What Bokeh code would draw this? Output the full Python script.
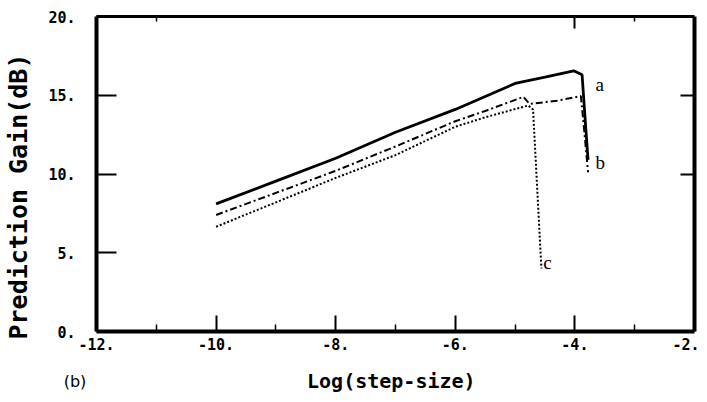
from bokeh.plotting import figure
from bokeh.models import Range1d, LinearAxis, FixedTicker, Label
from bokeh.embed import file_html
from bokeh.resources import INLINE

# ---- data ----
x_ticks = [-12, -10, -8, -6, -4, -2]
x_tick_labels = ["-12.", "-10.", "-8.", "-6.", "-4.", "-2."]
x_minor = [-11, -9, -7, -5, -3]
y_ticks = [0, 5, 10, 15, 20]
y_tick_labels = ["0.", "5.", "10.", "15.", "20."]
x_lim = (-12, -2)
y_lim = (0, 20)

xa = [-10, -9, -8, -7, -6, -5, -4.5, -4.02, -3.88, -3.82, -3.78]
ya = [8.1, 9.55, 11.0, 12.65, 14.1, 15.75, 16.15, 16.55, 16.3, 13.0, 10.9]

xb = [-10, -9, -8, -7, -6, -5.5, -4.86, -4.76, -4.3, -3.9, -3.85, -3.78]
yb = [7.4, 8.8, 10.2, 11.75, 13.35, 14.0, 14.9, 14.45, 14.65, 14.95, 13.0, 10.1]

xc = [-10, -9, -8, -7, -6, -5.5, -4.78, -4.70, -4.56]
yc = [6.65, 8.2, 9.75, 11.2, 13.0, 13.6, 14.35, 14.1, 4.0]

curve_names = ["a", "b", "c"]
curve_label_x = [-3.656, -3.656, -4.53]
curve_label_y = [15.68, 10.73, 4.38]

MONO = "DejaVu Sans Mono"

# the whole canvas is the frame; axes sit at fixed data positions
W, H = 699, 394
L_PX, R_PX, T_PX, B_PX = 96, 5, 16, 63
ux = (W - L_PX - R_PX) / (x_lim[1] - x_lim[0])
uy = (H - T_PX - B_PX) / (y_lim[1] - y_lim[0])
xr = Range1d(x_lim[0] - L_PX / ux, x_lim[1] + R_PX / ux)
yr = Range1d(y_lim[0] - B_PX / uy, y_lim[1] + T_PX / uy)

p = figure(frame_width=W, frame_height=H, min_border=0,
           x_range=xr, y_range=yr,
           output_backend="svg", toolbar_location=None,
           x_axis_type=None, y_axis_type=None)
p.background_fill_color = "white"
p.border_fill_color = "white"
p.grid.visible = False
p.outline_line_color = None


def style(ax, tick_in, minor_in=0, lw=4):
    ax.axis_line_color = "black"
    ax.axis_line_width = lw
    ax.major_tick_in = tick_in
    ax.major_tick_out = 0
    ax.major_tick_line_width = 2
    ax.minor_tick_in = minor_in
    ax.minor_tick_out = 0
    ax.minor_tick_line_width = 1.5
    ax.major_label_text_font = MONO
    ax.major_label_text_font_style = "bold"
    ax.major_label_text_font_size = "15px"
    ax.major_label_text_color = "black"


bottom = LinearAxis(ticker=FixedTicker(ticks=x_ticks, minor_ticks=x_minor),
                    fixed_location=y_lim[0], bounds=x_lim)
style(bottom, 16, 7)
bottom.major_label_overrides = dict(zip(x_ticks, x_tick_labels))
bottom.major_label_standoff = 6
p.add_layout(bottom, "below")

left = LinearAxis(ticker=FixedTicker(ticks=y_ticks),
                  fixed_location=x_lim[0], bounds=y_lim)
style(left, 20)
left.major_label_overrides = dict(zip(y_ticks, y_tick_labels))
left.major_label_standoff = 21
p.add_layout(left, "left")

right_ticks = [10, 15]
right = LinearAxis(ticker=FixedTicker(ticks=right_ticks),
                   fixed_location=x_lim[1], bounds=y_lim)
style(right, 14)
right.major_label_overrides = {t: "" for t in right_ticks}
p.add_layout(right, "right")

top_ticks = [-4]
top = LinearAxis(ticker=FixedTicker(ticks=top_ticks, minor_ticks=[-11, -3]),
                 fixed_location=y_lim[1], bounds=x_lim)
style(top, 12, 5, lw=3)
top.major_label_overrides = {t: "" for t in top_ticks}
p.add_layout(top, "above")

p.line(xa, ya, line_color="black", line_width=2.8)
p.line(xb, yb, line_color="black", line_width=2, line_dash="7 3 2 3")
p.line(xc, yc, line_color="black", line_width=2, line_dash="2 2")

for name, lx, ly in zip(curve_names, curve_label_x, curve_label_y):
    p.add_layout(Label(x=lx, y=ly, text=name, text_font="Liberation Serif",
                       text_font_size="19px", text_baseline="middle",
                       text_align="left", text_color="black"))

p.add_layout(Label(x=-7.07, y=-3.17, text="Log(step-size)", text_font=MONO,
                   text_font_style="bold", text_font_size="20px",
                   text_align="center", text_baseline="middle", text_color="black"))
p.add_layout(Label(x=-13.296, y=8.57, text="Prediction Gain(dB)", text_font=MONO,
                   text_font_style="bold", text_font_size="25px", angle=1.5708,
                   text_align="center", text_baseline="middle", text_color="black"))
p.add_layout(Label(x=-12.36, y=-3.17, text="(b)", text_font="DejaVu Sans",
                   text_font_size="16px", text_align="center",
                   text_baseline="middle", text_color="black"))

open("out.html", "w").write(file_html(p, INLINE))
